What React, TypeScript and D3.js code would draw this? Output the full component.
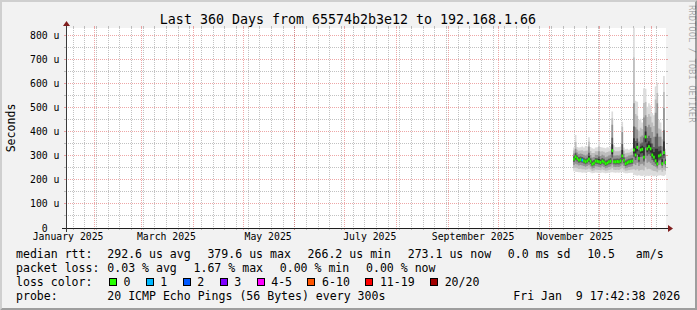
import React from "react";
import * as d3 from "d3";

// ---------- data ----------
const TITLE = "Last 360 Days from 65574b2b3e12 to 192.168.1.66";
const Y_LABEL = "Seconds";
const WATERMARK = "RRDTOOL / TOBI OETIKER";
const END_TIME = new Date(2026, 0, 9, 17, 42, 38);
const RANGE_DAYS = 360;
const DATA_START = new Date(2025, 10, 15); // first daily column (Nov 15 2025)
const Y_MAX = 833.33; // microseconds at top of canvas

const yTickValues = [0, 100, 200, 300, 400, 500, 600, 700, 800];
const yMinorValues = [50, 150, 250, 350, 450, 550, 650, 750];
const xTickLabels = ["January 2025", "March 2025", "May 2025", "July 2025", "September 2025", "November 2025"];

// daily values in microseconds (median rtt and smoke envelope)
const medianRtt = [
  287, 297, 290, 283, 285, 283, 280, 276, 280, 287,
  278, 266.2, 270, 279, 278, 276, 273, 279, 275, 268,
  271, 276, 278, 322, 276, 276, 277, 276, 280, 300,
  282, 268, 272, 276, 277, 279, 325, 304, 336, 290,
  325, 328, 295, 379.6, 330, 339, 330, 304, 295, 280,
  267, 300, 304, 268, 314, 273.1,
];
const smokeLow = [
  236, 234, 233, 232, 232, 230, 231, 230, 232, 233,
  231, 228, 229, 231, 230, 230, 229, 231, 230, 228,
  229, 230, 231, 232, 231, 230, 231, 230, 232, 233,
  230, 228, 228, 229, 230, 230, 222, 220, 218, 220,
  218, 217, 219, 216, 218, 217, 219, 218, 216, 218,
  217, 219, 220, 218, 217, 222,
];
const smokeQ1 = [
  262, 268, 265, 260, 262, 260, 258, 255, 258, 262,
  256, 248, 250, 257, 256, 254, 252, 257, 254, 249,
  251, 254, 256, 265, 255, 254, 255, 254, 257, 265,
  258, 249, 251, 254, 255, 257, 268, 262, 272, 258,
  266, 268, 260, 290, 272, 276, 270, 262, 258, 255,
  248, 262, 265, 250, 268, 252,
];
const smokeQ3 = [
  310, 330, 315, 308, 310, 308, 305, 302, 306, 340,
  304, 294, 296, 305, 304, 320, 300, 305, 302, 295,
  298, 302, 305, 430, 302, 302, 303, 302, 306, 400,
  308, 295, 298, 302, 303, 305, 520, 420, 410, 360,
  380, 385, 460, 470, 420, 430, 420, 400, 380, 480,
  520, 380, 380, 340, 500, 305,
];
const smokeHigh = [
  335, 387, 338, 335, 336, 340, 335, 342, 340, 378,
  338, 332, 330, 335, 336, 360, 338, 335, 334, 332,
  336, 335, 340, 485, 345, 338, 336, 338, 340, 443,
  335, 328, 330, 326, 330, 334, 900, 530, 526, 450,
  455, 440, 582, 580, 505, 520, 510, 479, 470, 590,
  605, 450, 440, 400, 633, 330,
];
const lossPerDay = [
  0, 0, 0, 0, 0, 1, 0, 0, 0, 0,
  0, 0, 0, 0, 0, 0, 0, 0, 0, 0,
  0, 0, 0, 0, 0, 0, 0, 0, 0, 0,
  0, 0, 0, 0, 0, 0, 0, 0, 0, 0,
  0, 0, 0, 0, 0, 0, 0, 0, 0, 0,
  0, 0, 0, 0, 0, 0,
];

const rttStats = ["292.6 us avg", "379.6 us max", "266.2 us min", "273.1 us now", "0.0 ms sd", "10.5   am/s"];
const lossStats = ["0.03 % avg", "1.67 % max", "0.00 % min", "0.00 % now"];
const lossLabels = ["0", "1", "2", "3", "4-5", "6-10", "11-19", "20/20"];
const lossColors = ["#26ff00", "#00b8ff", "#0059ff", "#7e00ff", "#ff00ff", "#ff5500", "#ff0000", "#a10000"];
const probeText = "20 ICMP Echo Pings (56 Bytes) every 300s";
const dateText = "Fri Jan  9 17:42:38 2026";

// ---------- layout ----------
const W = 697, H = 310;
const X0 = 66, X1 = 666, Y0 = 228, Y1 = 28;
const MONO = "'DejaVu Sans Mono', monospace";
const LEG_FS = 11.55, LEG_CW = LEG_FS * 0.602;
const AX_FS = 9.8, AX_CW = AX_FS * 0.602;
const MINOR = "rgba(143,143,143,0.55)";
const MAJOR = "rgba(222,79,79,0.5)";

export default function App() {
  const start = new Date(END_TIME.getTime() - RANGE_DAYS * 86400000);
  const x = d3.scaleTime().domain([start, END_TIME]).range([X0, X1]);
  const y = d3.scaleLinear().domain([0, Y_MAX]).range([Y0, Y1]);
  const px = (v: number) => Math.floor(v) + 0.5;

  const rows = medianRtt.map((m, i) => ({
    date: d3.timeDay.offset(DATA_START, i),
    med: m, lo: smokeLow[i], q1: smokeQ1[i], q3: smokeQ3[i], hi: smokeHigh[i], loss: lossPerDay[i],
  }));
  const ext = [...rows, { ...rows[rows.length - 1], date: d3.timeDay.offset(DATA_START, rows.length) }];

  type R = typeof rows[number];
  const layers: { c: string; a: (r: R) => number; b: (r: R) => number }[] = [
    { c: "#dcdcdc", a: (r) => r.lo, b: (r) => r.hi },
    { c: "#bdbdbd", a: (r) => (r.lo + r.q1) / 2, b: (r) => (r.q3 + r.hi) / 2 },
    { c: "#949494", a: (r) => r.q1, b: (r) => r.q3 },
    { c: "#5e5e5e", a: (r) => (r.q1 + r.med) / 2, b: (r) => (r.q3 + r.med) / 2 },
    { c: "#2e2e2e", a: (r) => r.med - (r.med - r.q1) * 0.25, b: (r) => r.med + (r.q3 - r.med) * 0.25 },
  ];
  const areaFor = (l: typeof layers[number]) =>
    d3.area<R>().curve(d3.curveStepAfter).x((r) => x(r.date)).y0((r) => y(l.a(r))).y1((r) => y(l.b(r)))(ext) || "";

  const sundays = d3.timeSunday.range(start, END_TIME);
  const months = d3.timeMonth.range(start, END_TIME);
  const parseMonth = d3.timeParse("%B %Y");

  // legend loss color items
  let lx = 108.7;
  const lossItems = lossLabels.map((lab, i) => {
    const item = { box: lx, text: lx + 14.7, lab, color: lossColors[i] };
    lx = item.text + lab.length * LEG_CW + 15.3;
    return item;
  });
  const segX = (texts: string[], x0: number) => {
    let cx = x0;
    return texts.map((t) => {
      const r = { x: cx, t };
      cx += t.length * LEG_CW + 16.7;
      return r;
    });
  };
  const txt = { fontFamily: MONO, whiteSpace: "pre" as const };

  return (
    <svg width={W} height={H} style={{ position: "absolute", left: 0, top: 0, display: "block" }}>
      <defs>
        <clipPath id="plot"><rect x={X0} y={Y1} width={X1 - X0} height={Y0 - Y1} /></clipPath>
      </defs>
      <rect x={0} y={0} width={W} height={H} fill="#f2f2f2" />
      <polygon points={`0,${H} 2,${H - 2} 2,2 ${W - 2},2 ${W},0 0,0`} fill="#cfcfcf" />
      <polygon points={`2,${H - 2} ${W - 2},${H - 2} ${W - 2},2 ${W},0 ${W},${H} 0,${H}`} fill="#9e9e9e" />
      <rect x={X0} y={Y1} width={X1 - X0} height={Y0 - Y1} fill="#ffffff" />

      {/* horizontal grid */}
      {yMinorValues.map((v) => (
        <g key={"hm" + v}>
          <line x1={X0} x2={X1} y1={px(y(v))} y2={px(y(v))} stroke={MINOR} strokeDasharray="1,1" />
          <line x1={X0 - 2} x2={X0} y1={px(y(v))} y2={px(y(v))} stroke={MINOR} />
          <line x1={X1} x2={X1 + 2} y1={px(y(v))} y2={px(y(v))} stroke={MINOR} />
        </g>
      ))}
      {/* vertical minor grid */}
      {sundays.map((d) => (
        <g key={"vm" + d.getTime()}>
          <line x1={px(x(d))} x2={px(x(d))} y1={Y1} y2={Y0} stroke={MINOR} strokeDasharray="1,1" />
          <line x1={px(x(d))} x2={px(x(d))} y1={Y0} y2={Y0 + 2} stroke={MINOR} />
          <line x1={px(x(d))} x2={px(x(d))} y1={Y1 - 2} y2={Y1} stroke={MINOR} />
        </g>
      ))}
      {yTickValues.filter((v) => v > 0).map((v) => (
        <g key={"hM" + v}>
          <line x1={X0} x2={X1} y1={px(y(v))} y2={px(y(v))} stroke={MAJOR} strokeDasharray="1,1" />
          <line x1={X0 - 2} x2={X0} y1={px(y(v))} y2={px(y(v))} stroke={MAJOR} />
          <line x1={X1} x2={X1 + 2} y1={px(y(v))} y2={px(y(v))} stroke={MAJOR} />
        </g>
      ))}
      {months.map((d) => (
        <g key={"vM" + d.getTime()}>
          <line x1={px(x(d))} x2={px(x(d))} y1={Y1} y2={Y0} stroke={MAJOR} strokeDasharray="1,1" />
          <line x1={px(x(d))} x2={px(x(d))} y1={Y0} y2={Y0 + 2} stroke={MAJOR} />
          <line x1={px(x(d))} x2={px(x(d))} y1={Y1 - 2} y2={Y1} stroke={MAJOR} />
        </g>
      ))}

      {/* smoke */}
      <g clipPath="url(#plot)">
        {layers.map((l, i) => (
          <path key={"l" + i} d={areaFor(l)} fill={l.c} />
        ))}
        {rows.map((r, i) => {
          const xa = x(r.date);
          const xb = x(d3.timeDay.offset(r.date, 1));
          return (
            <rect key={"m" + i} x={xa} width={xb - xa} y={y(r.med) - 1.5} height={3} fill={lossColors[r.loss]} />
          );
        })}
      </g>

      {/* axes */}
      <line x1={X0 - 4} x2={X1 + 4} y1={Y0 + 0.5} y2={Y0 + 0.5} stroke="#1f1f1f" />
      <line x1={X0 + 0.5} x2={X0 + 0.5} y1={Y0 + 4} y2={Y1 - 4} stroke="#3a3a3a" />
      <polygon points={`${X1 + 2},${Y0 - 3} ${X1 + 2},${Y0 + 4} ${X1 + 7},${Y0 + 0.5}`} fill="#801f1f" />
      <polygon points={`${X0 - 3},${Y1 - 2} ${X0 + 4},${Y1 - 2} ${X0 + 0.5},${Y1 - 7}`} fill="#801f1f" />

      {/* y tick labels */}
      {yTickValues.map((v) => (
        <text key={"yl" + v} x={59.5 - (v === 0 ? 2 * AX_CW : 0)} y={y(v) + 3.5} fontSize={AX_FS} textAnchor="end" style={txt}>
          {v === 0 ? "0" : `${v} u`}
        </text>
      ))}
      {/* x tick labels at mid-month */}
      {xTickLabels.map((lab) => {
        const m = parseMonth(lab) as Date;
        return (
          <text key={lab} x={x(d3.timeDay.offset(m, 15))} y={240} fontSize={AX_FS} textAnchor="middle" style={txt}>
            {lab}
          </text>
        );
      })}

      {/* title & labels */}
      <text x={348} y={24} fontSize={13.3} textAnchor="middle" style={txt}>{TITLE}</text>
      <text transform={`translate(14.5,${(Y0 + Y1) / 2}) rotate(-90)`} fontSize={LEG_FS} textAnchor="middle" style={txt}>{Y_LABEL}</text>
      <text transform="translate(688.5,5) rotate(90)" fontSize={8.9} fill="#000" opacity={0.3} style={txt}>{WATERMARK}</text>

      {/* legend */}
      <text x={16} y={258} fontSize={LEG_FS} style={txt}>median rtt:</text>
      {segX(rttStats, 107.3).map((s) => (
        <text key={"r" + s.t} x={s.x} y={258} fontSize={LEG_FS} style={txt}>{s.t}</text>
      ))}
      <text x={16} y={272} fontSize={LEG_FS} style={txt}>packet loss:</text>
      {segX(lossStats, 107.3).map((s, i) => (
        <text key={"p" + i} x={s.x} y={272} fontSize={LEG_FS} style={txt}>{s.t}</text>
      ))}
      <text x={16} y={286} fontSize={LEG_FS} style={txt}>loss color:</text>
      {lossItems.map((it) => (
        <g key={"lc" + it.lab}>
          <rect x={Math.round(it.box) + 0.5} y={278.5} width={7} height={7} fill={it.color} stroke="#000" />
          <text x={it.text} y={286} fontSize={LEG_FS} style={txt}>{it.lab}</text>
        </g>
      ))}
      <text x={16} y={300} fontSize={LEG_FS} style={txt}>probe:</text>
      <text x={107.3} y={300} fontSize={LEG_FS} style={txt}>{probeText}</text>
      <text x={513.3} y={300} fontSize={LEG_FS} style={txt}>{dateText}</text>
    </svg>
  );
}
